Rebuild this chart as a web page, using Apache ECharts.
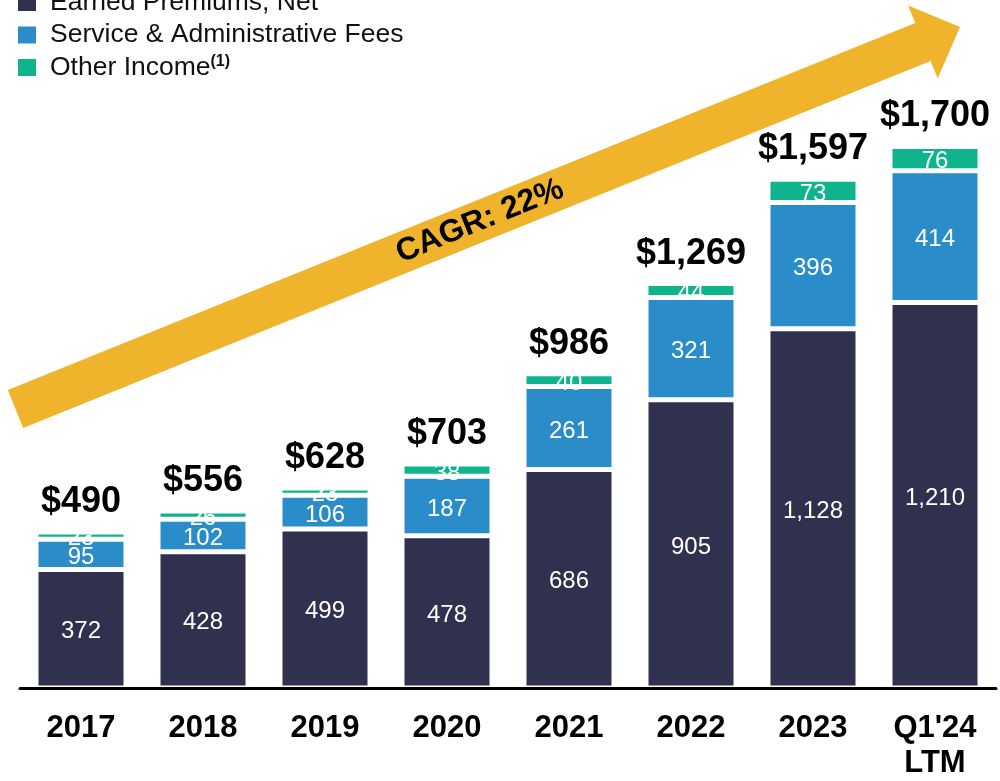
<!DOCTYPE html>
<html>
<head>
<meta charset="utf-8">
<style>
  html, body { margin: 0; padding: 0; background: #fff; }
  #chart { width: 1000px; height: 781px; }
</style>
<script src="https://cdn.jsdelivr.net/npm/echarts@6/dist/echarts.min.js"></script>
</head>
<body>
<div id="chart"></div>
<script>
// data
const categories = ['2017', '2018', '2019', '2020', '2021', '2022', '2023', "Q1'24\nLTM"];
const earnedPremiums = [372, 428, 499, 478, 686, 905, 1128, 1210];
const serviceFees = [95, 102, 106, 187, 261, 321, 396, 414];
const otherIncome = [23, 26, 23, 38, 40, 44, 73, 76];
const totals = [490, 556, 628, 703, 986, 1269, 1597, 1700];
const cagrText = 'CAGR: 22%';

const FONT = '"Liberation Sans", Arial, sans-serif';
const colors = ['#30314f', '#2a8dca', '#0fb48c'];

const chart = echarts.init(document.getElementById('chart'));

// arrow drawn behind the bars (decoration)
const tail = [15.5, 409];
const tip = [960, 27];
const bodyHalf = 20.5;
const headHalf = 39.5;
const headLen = 40;
const dx = tip[0] - tail[0], dy = tip[1] - tail[1];
const len = Math.sqrt(dx * dx + dy * dy);
const ux = dx / len, uy = dy / len;
const nx = -uy, ny = ux;
const base = [tip[0] - ux * headLen, tip[1] - uy * headLen];
const arrowPts = [
  [tail[0] + nx * bodyHalf, tail[1] + ny * bodyHalf],
  [base[0] + nx * bodyHalf, base[1] + ny * bodyHalf],
  [base[0] + nx * headHalf, base[1] + ny * headHalf],
  tip,
  [base[0] - nx * headHalf, base[1] - ny * headHalf],
  [base[0] - nx * bodyHalf, base[1] - ny * bodyHalf],
  [tail[0] - nx * bodyHalf, tail[1] - ny * bodyHalf]
];
const angle = Math.atan2(-dy, dx);
const textX = 480;
const textY = tail[1] + uy * (textX - tail[0]) / ux;

const barStyle = (color) => ({
  color: color,
  borderColor: '#fff',
  borderWidth: 2.5
});

const segLabel = {
  show: true,
  position: 'inside',
  offset: [0, 3],
  color: '#fff',
  fontSize: 24,
  fontFamily: FONT,
  formatter: (p) => p.value.toLocaleString('en-US')
};

const option = {
  animation: false,
  textStyle: { fontFamily: FONT },
  grid: { left: 20, right: 4, top: 51, bottom: 92, containLabel: false },
  legend: {
    orient: 'vertical',
    left: 11,
    top: -16,
    itemWidth: 20,
    itemHeight: 19,
    itemGap: 5.5,
    icon: 'rect',
    selectedMode: false,
    textStyle: {
      fontSize: 26.5,
      color: '#111',
      fontFamily: FONT,
      padding: [0, 0, 0, 8],
      rich: {
        sup: { fontSize: 16, fontWeight: 'bold', color: '#111', verticalAlign: 'top', padding: [0, 0, 9, 0] }
      }
    },
    formatter: (name) => name === 'Other Income' ? 'Other Income{sup|(1)}' : name,
    data: ['Earned Premiums, Net', 'Service & Administrative Fees', 'Other Income']
  },
  xAxis: {
    type: 'category',
    data: categories,
    z: 10,
    axisLine: { lineStyle: { color: '#000', width: 3 } },
    axisTick: { show: false },
    axisLabel: {
      margin: 23,
      color: '#000',
      fontSize: 31,
      fontWeight: 'bold',
      fontFamily: FONT,
      lineHeight: 35,
      interval: 0
    }
  },
  yAxis: {
    type: 'value',
    min: 0,
    max: 2000,
    show: false,
    splitLine: { show: false }
  },
  series: [
    {
      name: 'Earned Premiums, Net',
      type: 'bar',
      stack: 'rev',
      barWidth: 90,
      data: earnedPremiums,
      itemStyle: barStyle(colors[0]),
      label: segLabel
    },
    {
      name: 'Service & Administrative Fees',
      type: 'bar',
      stack: 'rev',
      barWidth: 90,
      data: serviceFees,
      itemStyle: barStyle(colors[1]),
      label: segLabel
    },
    {
      name: 'Other Income',
      type: 'bar',
      stack: 'rev',
      barWidth: 90,
      data: otherIncome,
      itemStyle: barStyle(colors[2]),
      label: segLabel
    },
    {
      name: 'Total',
      type: 'scatter',
      symbolSize: 0,
      silent: true,
      data: totals,
      itemStyle: { opacity: 1, color: 'rgba(0,0,0,0)' },
      label: {
        show: true,
        position: 'top',
        distance: 12,
        color: '#000',
        opacity: 1,
        fontSize: 36,
        fontWeight: 'bold',
        fontFamily: FONT,
        formatter: (p) => '$' + p.value.toLocaleString('en-US')
      }
    }
  ],
  graphic: [
    {
      type: 'polygon',
      z: -1,
      silent: true,
      shape: { points: arrowPts },
      style: { fill: '#f0b42c' }
    },
    {
      type: 'text',
      z: 0,
      silent: true,
      x: textX,
      y: textY,
      rotation: angle,
      style: {
        text: cagrText,
        fill: '#000',
        font: 'bold 32px ' + FONT,
        align: 'center',
        verticalAlign: 'middle'
      }
    }
  ]
};

chart.setOption(option);
</script>
</body>
</html>
